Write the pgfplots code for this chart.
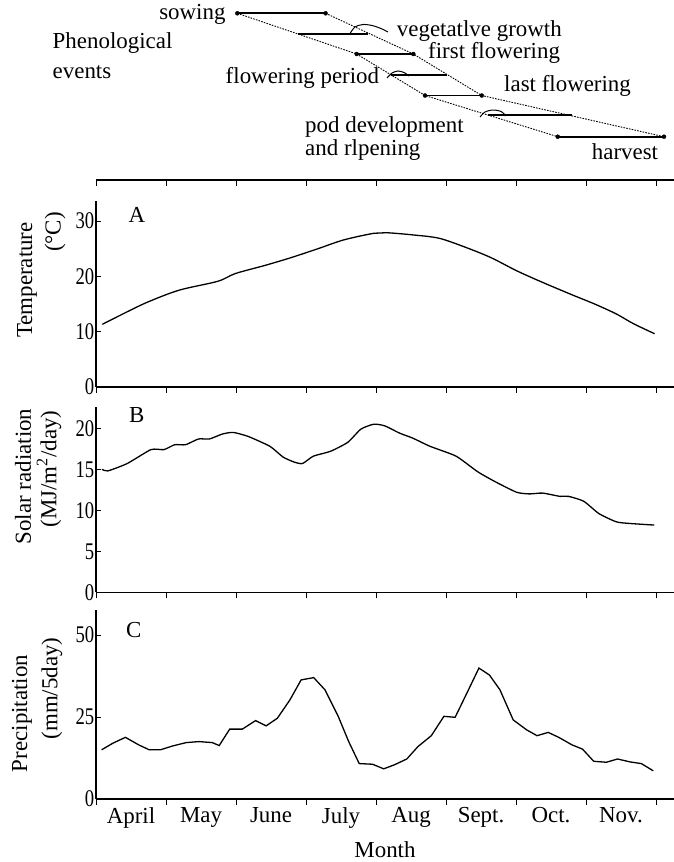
\documentclass[border=0pt]{standalone}
\usepackage{fontspec}
\setmainfont{Liberation Serif}
\newfontfamily\tickfont{Liberation Serif}[FakeStretch=0.78]
\usepackage{pgfplots}
\pgfplotsset{compat=1.18}

\pgfplotsset{
  panel/.style={
    scale only axis, width=578bp, xmin=0, xmax=8.257, clip=false,
    axis x line*=bottom, axis y line*=left,
    axis line style={line width=1.6bp, black},
    tick align=inside, major tick length=5bp,
    every tick/.style={line width=0.9bp, black},
    xtick=\empty,
    extra x ticks={0,...,8}, extra x tick labels={},
    extra x tick style={tick align=outside, major tick length=6bp},
    /pgf/number format/assume math mode=true,
    tick label style={font=\tickfont\fontsize{24}{26}\selectfont},
    yticklabel style={inner xsep=1.5bp},
  },
  curve/.style={line width=1.3bp, black},
  bar/.style={line width=1.8bp, black},
  guide/.style={line width=0.9bp, black, dash pattern=on 1.6bp off 1.2bp},
  hump/.style={line width=1bp, black, smooth},
}

\begin{document}
\begin{tikzpicture}[x=1bp, y=1bp, font=\fontsize{23}{27}\selectfont]

% ---------- phenological time line ----------
\begin{axis}[scale only axis, width=578bp, height=180bp,
  at={(96bp,-180bp)}, anchor=south west,
  xmin=0, xmax=8.257, ymin=0, ymax=180, clip=false,
  axis x line*=bottom, axis y line=none,
  axis line style={line width=1.6bp, black},
  xtick={0,...,8}, xticklabels={}, ytick=\empty,
  tick align=outside, major tick length=6bp,
  every tick/.style={line width=0.9bp, black}]
  % boundaries of the stages
  \addplot[guide] coordinates {(2.019,166.7) (3.724,126) (4.700,84.5) (6.596,43.3)};
  \addplot[guide] coordinates {(3.280,166.7) (4.533,126) (5.510,84.5) (8.114,43.3)};
  % stage bars
  \addplot[bar] coordinates {(2.019,166.7) (3.280,166.7)};
  \addplot[bar] coordinates {(2.879,145.7) (3.886,145.7)};
  \addplot[bar] coordinates {(3.724,126) (4.533,126)};
  \addplot[bar] coordinates {(4.214,105) (5.014,105)};
  \addplot[bar] coordinates {(4.700,84.5) (5.510,84.5)};
  \addplot[bar] coordinates {(5.600,65) (6.796,65)};
  \addplot[bar] coordinates {(6.596,43.3) (8.114,43.3)};
  \addplot[only marks, mark=*, mark size=2bp, black] coordinates {
    (2.019,166.7) (3.280,166.7) (3.724,126) (4.533,126)
    (4.700,84.5) (5.510,84.5) (6.596,43.3) (8.114,43.3)};
  % period pointers
  \addplot[hump] coordinates {(3.629,146.5) (3.700,153) (3.814,155.5) (3.943,154.5) (4.071,151.5) (4.171,148)};
  \addplot[hump] coordinates {(4.157,102) (4.229,107) (4.314,109) (4.400,107.5) (4.471,104)};
  \addplot[hump] coordinates {(5.486,63) (5.557,68) (5.671,70) (5.786,68.5) (5.857,64)};
  % labels
  \node[anchor=east, inner sep=0pt] at (axis cs:1.853,166) {sowing};
  \node[anchor=west, inner sep=0pt] at (axis cs:4.296,149) {vegetatlve growth};
  \node[anchor=west, inner sep=0pt] at (axis cs:4.743,127.5) {first flowering};
  \node[anchor=east, inner sep=0pt] at (axis cs:4.047,102.5) {flowering period};
  \node[anchor=west, inner sep=0pt] at (axis cs:5.829,94) {last flowering};
  \node[anchor=west, inner sep=0pt] at (axis cs:2.986,53.3) {pod development};
  \node[anchor=west, inner sep=0pt] at (axis cs:2.986,30) {and rlpening};
  \node[anchor=west, inner sep=0pt] at (axis cs:7.081,28.5) {harvest};
  \node[anchor=west, inner sep=0pt] at (axis cs:-0.621,137) {Phenological};
  \node[anchor=west, inner sep=0pt] at (axis cs:-0.621,108) {events};
\end{axis}

% ---------- A: temperature ----------
\begin{axis}[panel, height=186bp, at={(96bp,-386.7bp)}, anchor=south west,
  ymin=0, ymax=33.7, ytick={0,10,20,30}]
  \addplot[curve, smooth, tension=0.5] coordinates {
    (0.09,11.3) (0.45,13.6) (0.75,15.4) (1.19,17.5) (1.74,19.1) (1.99,20.5)
    (2.42,22.0) (2.79,23.4) (3.17,25.0) (3.54,26.6) (3.97,27.8) (4.15,27.9)
    (4.53,27.5) (4.90,26.9) (5.27,25.3) (5.64,23.4) (6.01,21.0) (6.38,18.9)
    (6.81,16.6) (7.12,15.0) (7.43,13.2) (7.68,11.4) (7.98,9.6)};
  \node at (axis cs:0.583,31.1) {A};
\end{axis}

% ---------- B: solar radiation ----------
\begin{axis}[panel, height=185bp, at={(96bp,-592.3bp)}, anchor=south west,
  ymin=0, ymax=22.56, ytick={0,5,10,15,20}]
  \addplot[curve, smooth, tension=0.35] coordinates {
    (0.087,15.0) (0.167,14.8) (0.445,15.7) (0.785,17.4) (0.971,17.4) (1.125,18.0)
    (1.280,18.0) (1.465,18.7) (1.620,18.7) (1.805,19.3) (1.960,19.5) (2.176,19.0)
    (2.485,17.8) (2.671,16.5) (2.825,15.9) (2.949,15.7) (3.104,16.6) (3.351,17.2)
    (3.598,18.3) (3.784,19.9) (3.969,20.5) (4.124,20.3) (4.340,19.4) (4.526,18.8)
    (4.773,17.8) (5.144,16.6) (5.453,14.7) (5.700,13.5) (6.009,12.2) (6.195,12.0)
    (6.380,12.1) (6.628,11.7) (6.751,11.7) (6.968,11.1) (7.184,9.6) (7.431,8.6)
    (7.617,8.4) (7.975,8.2)};
  \node at (axis cs:0.583,21.6) {B};
\end{axis}

% ---------- C: precipitation ----------
\begin{axis}[panel, height=189bp, at={(96bp,-799bp)}, anchor=south west,
  ymin=0, ymax=57.6, ytick={0,25,50}]
  \addplot[curve] coordinates {
    (0.08,15.0) (0.24,17.0) (0.42,18.8) (0.61,16.5) (0.76,15.0) (0.92,15.0)
    (1.10,16.2) (1.29,17.2) (1.47,17.5) (1.66,17.2) (1.76,16.3) (1.91,21.3)
    (2.09,21.3) (2.28,23.9) (2.43,22.3) (2.59,24.6) (2.77,30.2) (2.93,36.3)
    (3.11,37.0) (3.27,33.3) (3.46,25.2) (3.61,17.5) (3.76,10.8) (3.95,10.6)
    (4.11,9.2) (4.26,10.4) (4.44,12.2) (4.60,16.0) (4.79,19.3) (4.97,25.2)
    (5.13,24.9) (5.31,32.8) (5.47,39.9) (5.62,37.8) (5.77,33.3) (5.96,24.1)
    (6.15,21.1) (6.30,19.3) (6.46,20.3) (6.61,18.8) (6.80,16.5) (6.95,15.2)
    (7.11,11.5) (7.29,11.2) (7.45,12.2) (7.63,11.3) (7.79,10.8) (7.96,8.6)};
  \node at (axis cs:0.54,51.5) {C};
  % month names between the month boundaries
  \node[anchor=north, yshift=-5bp] at (axis cs:0.5,0) {April};
  \node[anchor=north, yshift=-5bp] at (axis cs:1.5,0) {May};
  \node[anchor=north, yshift=-5bp] at (axis cs:2.5,0) {June};
  \node[anchor=north, yshift=-5bp] at (axis cs:3.5,0) {July};
  \node[anchor=north, yshift=-5bp] at (axis cs:4.5,0) {Aug};
  \node[anchor=north, yshift=-5bp] at (axis cs:5.5,0) {Sept.};
  \node[anchor=north, yshift=-5bp] at (axis cs:6.5,0) {Oct.};
  \node[anchor=north, yshift=-5bp] at (axis cs:7.5,0) {Nov.};
\end{axis}

% ---------- axis titles ----------
\node[rotate=90] at (27,-280) {Temperature};
\node[rotate=90] at (55,-232) {(°C)};
\node[rotate=90] at (23,-476.5) {Solar radiation};
\node[rotate=90] at (49,-469) {(MJ/m\textsuperscript{2}/day)};
\node[rotate=90] at (22,-713.5) {Precipitation};
\node[rotate=90] at (52,-688.5) {(mm/5day)};
\node at (385,-850) {Month};

% page frame
\pgfresetboundingbox
\useasboundingbox (0,0) rectangle (674,-862);
\end{tikzpicture}
\end{document}
